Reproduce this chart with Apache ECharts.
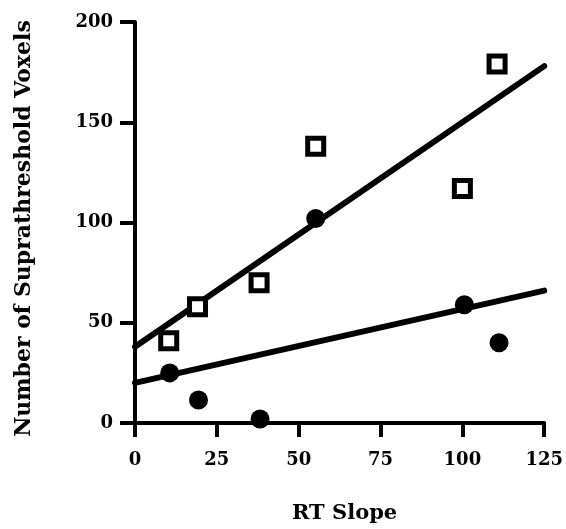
<!DOCTYPE html>
<html>
<head>
<meta charset="utf-8">
<script src="https://cdn.jsdelivr.net/npm/echarts@6/dist/echarts.min.js"></script>
<style>
  html, body { margin: 0; padding: 0; background: #fff; }
  #chart { width: 566px; height: 529px; }
</style>
</head>
<body>
<div id="chart"></div>
<script>
// points : pente RT vs nombre de voxels suprathreshold
const squarePts = [[10.3, 41], [19.1, 58], [37.9, 70], [55.2, 138], [100, 117], [110.6, 179]];
const circlePts = [[10.6, 25], [19.4, 11.5], [38.2, 2], [55.2, 102], [100.6, 59], [111.2, 40]];
// droites de régression (extrémités lues)
const fitUpper = [[0, 38], [125, 178]];
const fitLower = [[0, 20], [125, 66]];
const xTicks = [0, 25, 50, 75, 100, 125];
const yTicks = [0, 50, 100, 150, 200];

const FONT = 'DejaVu Serif';
const chart = echarts.init(document.getElementById('chart'));

chart.setOption({
  animation: false,
  grid: { left: 135, right: 21, top: 22, bottom: 106 },
  xAxis: {
    type: 'value', min: xTicks[0], max: xTicks[xTicks.length - 1], interval: 25,
    name: 'RT Slope', nameLocation: 'middle', nameGap: 80,
    nameTextStyle: { fontFamily: FONT, fontWeight: 'bold', fontSize: 21, color: '#000', padding: [0, 0, 0, 10] },
    axisLine: { lineStyle: { color: '#000', width: 4 } },
    axisTick: { length: 14, lineStyle: { width: 4, color: '#000' } },
    axisLabel: { margin: 28, fontFamily: FONT, fontWeight: 'bold', fontSize: 18, color: '#000' },
    splitLine: { show: false }
  },
  yAxis: {
    type: 'value', min: yTicks[0], max: yTicks[yTicks.length - 1], interval: 50,
    name: 'Number of Suprathreshold Voxels', nameLocation: 'middle', nameGap: 100,
    nameTextStyle: { fontFamily: FONT, fontWeight: 'bold', fontSize: 22, color: '#000', padding: [0, 12, 0, 0] },
    axisLine: { lineStyle: { color: '#000', width: 4 } },
    axisTick: { length: 15, lineStyle: { width: 4, color: '#000' } },
    axisLabel: { margin: 22, fontFamily: FONT, fontWeight: 'bold', fontSize: 18, color: '#000' },
    splitLine: { show: false }
  },
  series: [
    { type: 'line', data: fitUpper, showSymbol: false, lineStyle: { color: '#000', width: 6, cap: 'round' }, z: 2 },
    { type: 'line', data: fitLower, showSymbol: false, lineStyle: { color: '#000', width: 6, cap: 'round' }, z: 2 },
    {
      type: 'scatter', data: squarePts, symbol: 'rect', symbolSize: 16,
      itemStyle: { color: '#fff', borderColor: '#000', borderWidth: 5, opacity: 1 }, z: 3
    },
    {
      type: 'scatter', data: circlePts, symbol: 'circle', symbolSize: 19,
      itemStyle: { color: '#000', opacity: 1 }, z: 3
    }
  ]
});
</script>
</body>
</html>
